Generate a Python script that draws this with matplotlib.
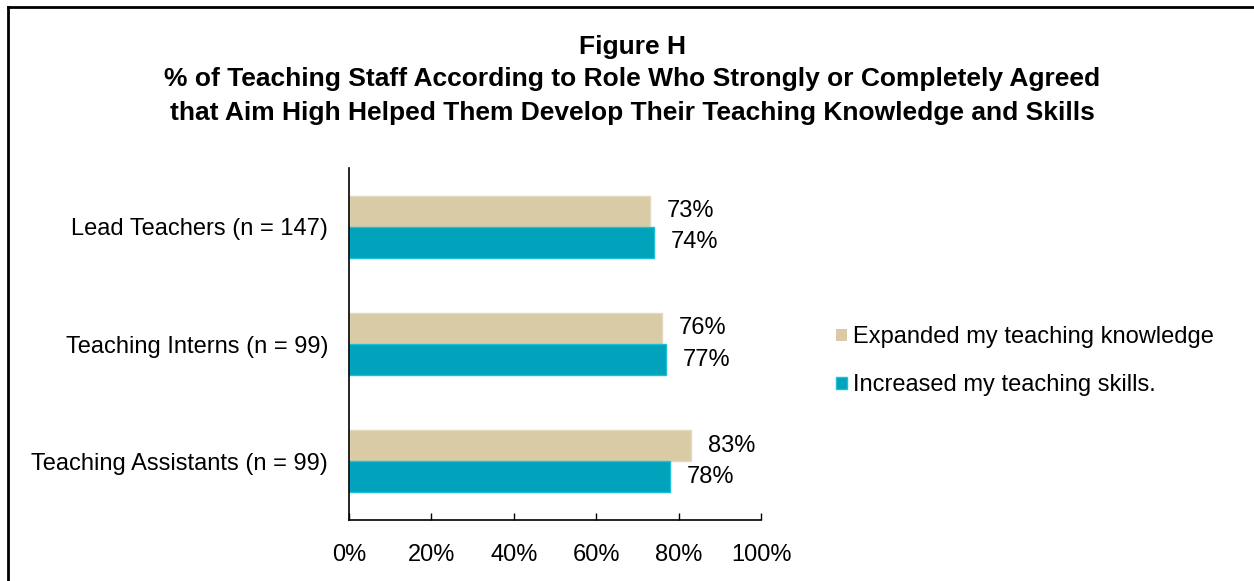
import numpy as np
import matplotlib.pyplot as plt
from matplotlib.lines import Line2D
from matplotlib.patches import Patch

plt.rcParams['font.family'] = ['Liberation Sans', 'DejaVu Sans']

roles = ['Lead Teachers (n = 147)', 'Teaching Interns (n = 99)', 'Teaching Assistants (n = 99)']
knowledge = [73, 76, 83]
skills = [74, 77, 78]
series_names = ['Expanded my teaching knowledge', 'Increased my teaching skills.']
xticks = [0, 20, 40, 60, 80, 100]

tan = '#D9CBA5'
teal = '#00A3BB'
fs = 17

fig = plt.figure(figsize=(12.54, 5.81), dpi=100)
ax = fig.add_axes([0.2783, 0.105, 0.3286, 0.6058])

y = np.arange(len(roles))
h = 0.265
ax.barh(y - h / 2, knowledge, height=h, color=tan, edgecolor='#E4D9BC', linewidth=1.0)
ax.barh(y + h / 2, skills, height=h, color=teal, edgecolor='#1BBFD6', linewidth=1.0)

# value labels just past the end of each bar
for i in range(len(roles)):
    ax.annotate(f'{knowledge[i]}%', (knowledge[i], y[i] - h / 2), xytext=(12, 0),
                textcoords='offset points', va='center', ha='left', fontsize=fs)
    ax.annotate(f'{skills[i]}%', (skills[i], y[i] + h / 2), xytext=(12, 0),
                textcoords='offset points', va='center', ha='left', fontsize=fs)

ax.set_ylim(2.5, -0.5)
ax.set_xlim(0, 100)
ax.set_yticks(y)
ax.set_yticklabels(roles, fontsize=fs)
ax.set_xticks(xticks)
ax.set_xticklabels([f'{t}%' for t in xticks], fontsize=fs)
ax.tick_params(axis='y', length=0, pad=15)
ax.tick_params(axis='x', direction='in', length=5, width=1, pad=17)
for s in ['top', 'right']:
    ax.spines[s].set_visible(False)
for s in ['left', 'bottom']:
    ax.spines[s].set_linewidth(1.2)

handles = [Patch(facecolor=tan, edgecolor='none'), Patch(facecolor=teal, edgecolor='#1BBFD6')]
fig.legend(handles, series_names, loc='center left', bbox_to_anchor=(0.6595, 0.378),
           frameon=False, fontsize=fs, handlelength=0.45, handleheight=0.45,
           handletextpad=0.25, labelspacing=1.1, borderaxespad=0)

fig.text(0.504, 0.919, 'Figure H', ha='center', va='center', fontsize=19, fontweight='bold')
fig.text(0.504, 0.864, '% of Teaching Staff According to Role Who Strongly or Completely Agreed',
         ha='center', va='center', fontsize=19, fontweight='bold')
fig.text(0.504, 0.805, 'that Aim High Helped Them Develop Their Teaching Knowledge and Skills',
         ha='center', va='center', fontsize=19, fontweight='bold')

# outer frame (top and left edges visible)
fig.add_artist(Line2D([8 / 1254, 1.0], [1 - 7 / 581, 1 - 7 / 581], color='black', lw=2,
                      transform=fig.transFigure))
fig.add_artist(Line2D([8 / 1254, 8 / 1254], [0.0, 1 - 7 / 581], color='black', lw=2,
                      transform=fig.transFigure))

fig.savefig('out.png', dpi=100)
